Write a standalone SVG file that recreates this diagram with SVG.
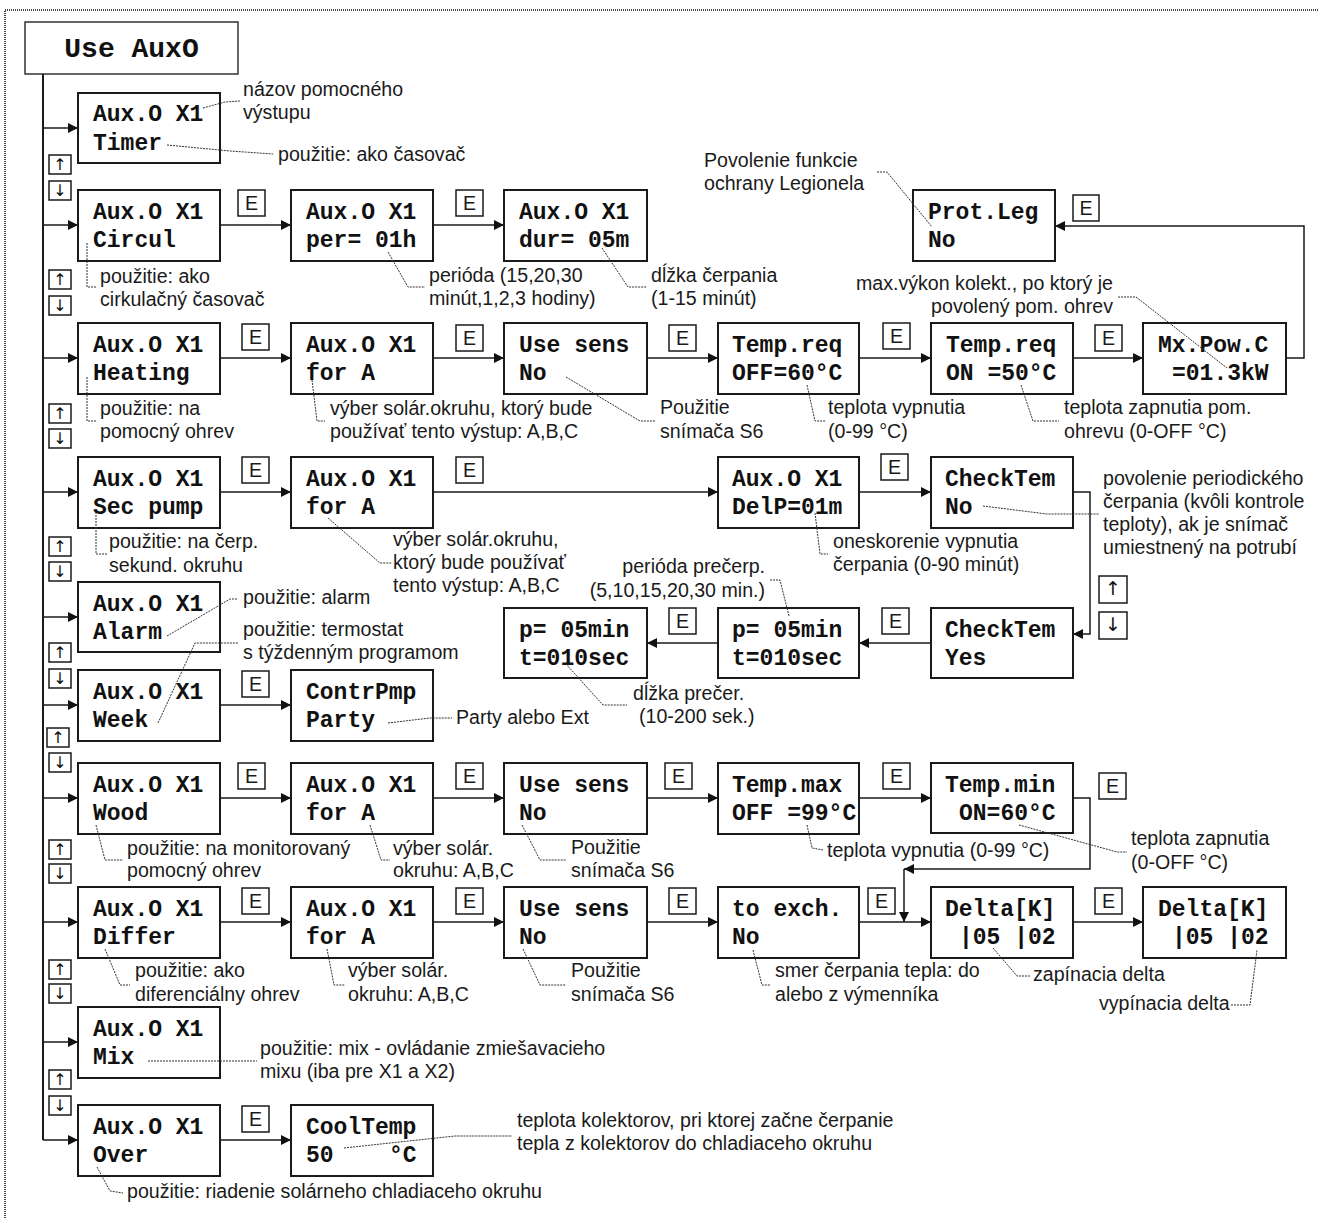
<svg xmlns="http://www.w3.org/2000/svg" width="1318" height="1218" viewBox="0 0 1318 1218">
<style>
.box{fill:#fff;stroke:#1a1a1a;stroke-width:2}
.tbox{fill:#fff;stroke:#333;stroke-width:1.5}
.m{font-family:"Liberation Mono","Courier New",monospace;font-weight:bold;font-size:23px;fill:#111}
.t{font-family:"Liberation Mono","Courier New",monospace;font-weight:bold;font-size:28px;fill:#111;text-anchor:middle}
.a{font-family:"Liberation Sans",Arial,sans-serif;font-size:19.6px;fill:#1a1a1a}
.end{text-anchor:end}
.ld{fill:none;stroke:#333;stroke-width:1;stroke-dasharray:2 1}
.c{fill:none;stroke:#1a1a1a;stroke-width:1.5}
.eb{fill:#fff;stroke:#1a1a1a;stroke-width:1.5}
.e{font-family:"Liberation Sans",Arial,sans-serif;font-size:19.6px;fill:#1a1a1a;text-anchor:middle}
.ud{font-family:"DejaVu Sans",sans-serif;font-size:16px;fill:#111;text-anchor:middle}
.brd{fill:none;stroke:#444;stroke-width:2;stroke-dasharray:1 1}
</style>
<defs>
<marker id="ah" markerUnits="userSpaceOnUse" markerWidth="11" markerHeight="11" refX="10" refY="5" orient="auto">
<path d="M0,0 L10,5 L0,10 z" fill="#111"/>
</marker>
</defs>
<rect width="1318" height="1218" fill="#fff"/>
<path class="brd" d="M5,1218 V10 H1318"/>

<g id="connectors">
<path class="c" style="stroke-width:2" d="M43,74 V1140"/>
<path class="c" marker-end="url(#ah)" d="M43,128 H78"/>
<path class="c" marker-end="url(#ah)" d="M43,225 H78"/>
<path class="c" marker-end="url(#ah)" d="M43,358 H78"/>
<path class="c" marker-end="url(#ah)" d="M43,492 H78"/>
<path class="c" marker-end="url(#ah)" d="M43,617 H78"/>
<path class="c" marker-end="url(#ah)" d="M43,705 H78"/>
<path class="c" marker-end="url(#ah)" d="M43,798 H78"/>
<path class="c" marker-end="url(#ah)" d="M43,922 H78"/>
<path class="c" marker-end="url(#ah)" d="M43,1042 H78"/>
<path class="c" marker-end="url(#ah)" d="M43,1140 H78"/>
<path class="c" marker-end="url(#ah)" d="M220,225 H291"/>
<path class="c" marker-end="url(#ah)" d="M433,225 H504"/>
<path class="c" marker-end="url(#ah)" d="M220,358 H291"/>
<path class="c" marker-end="url(#ah)" d="M433,358 H504"/>
<path class="c" marker-end="url(#ah)" d="M647,358 H718"/>
<path class="c" marker-end="url(#ah)" d="M859,358 H931"/>
<path class="c" marker-end="url(#ah)" d="M1073,358 H1143"/>
<path class="c" marker-end="url(#ah)" d="M1286,358 H1304 V226 H1055"/>
<path class="c" marker-end="url(#ah)" d="M220,492 H291"/>
<path class="c" marker-end="url(#ah)" d="M433,492 H718"/>
<path class="c" marker-end="url(#ah)" d="M859,492 H931"/>
<path class="c" marker-end="url(#ah)" d="M1073,492 H1090 V634 H1073"/>
<path class="c" marker-end="url(#ah)" d="M931,643 H859"/>
<path class="c" marker-end="url(#ah)" d="M718,643 H647"/>
<path class="c" marker-end="url(#ah)" d="M220,705 H291"/>
<path class="c" marker-end="url(#ah)" d="M220,798 H291"/>
<path class="c" marker-end="url(#ah)" d="M433,798 H504"/>
<path class="c" marker-end="url(#ah)" d="M647,798 H718"/>
<path class="c" marker-end="url(#ah)" d="M859,798 H931"/>
<path class="c" marker-end="url(#ah)" d="M1073,798 H1090 V869 H904"/>
<path class="c" marker-end="url(#ah)" d="M904,869 V922"/>
<path class="c" marker-end="url(#ah)" d="M220,922 H291"/>
<path class="c" marker-end="url(#ah)" d="M433,922 H504"/>
<path class="c" marker-end="url(#ah)" d="M647,922 H718"/>
<path class="c" marker-end="url(#ah)" d="M859,922 H931"/>
<path class="c" marker-end="url(#ah)" d="M1073,922 H1143"/>
<path class="c" marker-end="url(#ah)" d="M220,1140 H291"/>
</g>

<g id="keys">
<rect class="eb" x="238" y="190" width="27" height="26"/><text class="e" x="251.5" y="210">E</text>
<rect class="eb" x="456" y="190" width="27" height="26"/><text class="e" x="469.5" y="210">E</text>
<rect class="eb" x="242" y="324" width="27" height="26"/><text class="e" x="255.5" y="344">E</text>
<rect class="eb" x="456" y="325" width="27" height="26"/><text class="e" x="469.5" y="345">E</text>
<rect class="eb" x="669" y="325" width="27" height="26"/><text class="e" x="682.5" y="345">E</text>
<rect class="eb" x="883" y="323" width="27" height="26"/><text class="e" x="896.5" y="343">E</text>
<rect class="eb" x="1095" y="325" width="27" height="26"/><text class="e" x="1108.5" y="345">E</text>
<rect class="eb" x="1073" y="195" width="26" height="26"/><text class="e" x="1086" y="215">E</text>
<rect class="eb" x="242" y="457" width="27" height="26"/><text class="e" x="255.5" y="477">E</text>
<rect class="eb" x="456" y="457" width="27" height="26"/><text class="e" x="469.5" y="477">E</text>
<rect class="eb" x="881" y="454" width="27" height="26"/><text class="e" x="894.5" y="474">E</text>
<rect class="eb" x="882" y="608" width="27" height="26"/><text class="e" x="895.5" y="628">E</text>
<rect class="eb" x="669" y="608" width="27" height="26"/><text class="e" x="682.5" y="628">E</text>
<rect class="eb" x="242" y="671" width="27" height="26"/><text class="e" x="255.5" y="691">E</text>
<rect class="eb" x="238" y="763" width="27" height="26"/><text class="e" x="251.5" y="783">E</text>
<rect class="eb" x="456" y="763" width="27" height="26"/><text class="e" x="469.5" y="783">E</text>
<rect class="eb" x="665" y="763" width="27" height="26"/><text class="e" x="678.5" y="783">E</text>
<rect class="eb" x="883" y="763" width="27" height="26"/><text class="e" x="896.5" y="783">E</text>
<rect class="eb" x="1099" y="773" width="27" height="26"/><text class="e" x="1112.5" y="793">E</text>
<rect class="eb" x="242" y="888" width="27" height="26"/><text class="e" x="255.5" y="908">E</text>
<rect class="eb" x="456" y="888" width="27" height="26"/><text class="e" x="469.5" y="908">E</text>
<rect class="eb" x="669" y="888" width="27" height="26"/><text class="e" x="682.5" y="908">E</text>
<rect class="eb" x="868" y="888" width="27" height="26"/><text class="e" x="881.5" y="908">E</text>
<rect class="eb" x="1095" y="888" width="27" height="26"/><text class="e" x="1108.5" y="908">E</text>
<rect class="eb" x="242" y="1106" width="27" height="26"/><text class="e" x="255.5" y="1126">E</text>

<rect class="eb" x="49" y="155" width="22" height="19"/><text class="ud" x="60" y="170">↑</text>
<rect class="eb" x="49" y="181" width="22" height="19"/><text class="ud" x="60" y="196">↓</text>
<rect class="eb" x="49" y="270" width="22" height="19"/><text class="ud" x="60" y="285">↑</text>
<rect class="eb" x="49" y="296" width="22" height="19"/><text class="ud" x="60" y="311">↓</text>
<rect class="eb" x="49" y="404" width="22" height="19"/><text class="ud" x="60" y="419">↑</text>
<rect class="eb" x="49" y="429" width="22" height="19"/><text class="ud" x="60" y="444">↓</text>
<rect class="eb" x="49" y="537" width="22" height="19"/><text class="ud" x="60" y="552">↑</text>
<rect class="eb" x="49" y="562" width="22" height="19"/><text class="ud" x="60" y="577">↓</text>
<rect class="eb" x="49" y="643" width="22" height="19"/><text class="ud" x="60" y="658">↑</text>
<rect class="eb" x="49" y="669" width="22" height="19"/><text class="ud" x="60" y="684">↓</text>
<rect class="eb" x="47" y="728" width="22" height="19"/><text class="ud" x="58" y="743">↑</text>
<rect class="eb" x="49" y="753" width="22" height="19"/><text class="ud" x="60" y="768">↓</text>
<rect class="eb" x="49" y="840" width="22" height="19"/><text class="ud" x="60" y="855">↑</text>
<rect class="eb" x="49" y="864" width="22" height="19"/><text class="ud" x="60" y="879">↓</text>
<rect class="eb" x="49" y="960" width="22" height="19"/><text class="ud" x="60" y="975">↑</text>
<rect class="eb" x="49" y="984" width="22" height="19"/><text class="ud" x="60" y="999">↓</text>
<rect class="eb" x="49" y="1070" width="22" height="19"/><text class="ud" x="60" y="1085">↑</text>
<rect class="eb" x="49" y="1096" width="22" height="19"/><text class="ud" x="60" y="1111">↓</text>
<rect class="eb" x="1099" y="576" width="28" height="27"/><text class="ud" x="1113" y="595" style="font-size:19px">↑</text>
<rect class="eb" x="1099" y="612" width="28" height="27"/><text class="ud" x="1113" y="631" style="font-size:19px">↓</text>
</g>

<g id="n-title"><rect class="tbox" x="25" y="22" width="213" height="52"/><text class="t" x="131.5" y="57">Use AuxO</text></g>

<g id="n-timer"><rect class="box" x="78" y="93" width="142" height="70"/><text class="m" x="93" y="121">Aux.O X1</text><text class="m" x="93" y="150">Timer</text></g>
<g id="n-circul"><rect class="box" x="78" y="190" width="142" height="71"/><text class="m" x="93" y="219">Aux.O X1</text><text class="m" x="93" y="247">Circul</text></g>
<g id="n-heating"><rect class="box" x="78" y="323" width="142" height="71"/><text class="m" x="93" y="352">Aux.O X1</text><text class="m" x="93" y="380">Heating</text></g>
<g id="n-secpump"><rect class="box" x="78" y="457" width="142" height="71"/><text class="m" x="93" y="486">Aux.O X1</text><text class="m" x="93" y="514">Sec pump</text></g>
<g id="n-alarm"><rect class="box" x="78" y="582" width="142" height="70"/><text class="m" x="93" y="611">Aux.O X1</text><text class="m" x="93" y="639">Alarm</text></g>
<g id="n-week"><rect class="box" x="78" y="670" width="142" height="71"/><text class="m" x="93" y="699">Aux.O X1</text><text class="m" x="93" y="727">Week</text></g>
<g id="n-wood"><rect class="box" x="78" y="763" width="142" height="71"/><text class="m" x="93" y="792">Aux.O X1</text><text class="m" x="93" y="820">Wood</text></g>
<g id="n-differ"><rect class="box" x="78" y="887" width="142" height="71"/><text class="m" x="93" y="916">Aux.O X1</text><text class="m" x="93" y="944">Differ</text></g>
<g id="n-mix"><rect class="box" x="78" y="1007" width="142" height="71"/><text class="m" x="93" y="1036">Aux.O X1</text><text class="m" x="93" y="1064">Mix</text></g>
<g id="n-over"><rect class="box" x="78" y="1105" width="142" height="71"/><text class="m" x="93" y="1134">Aux.O X1</text><text class="m" x="93" y="1162">Over</text></g>

<g id="n-per"><rect class="box" x="291" y="190" width="142" height="71"/><text class="m" x="306" y="219">Aux.O X1</text><text class="m" x="306" y="247">per= 01h</text></g>
<g id="n-heat-fora"><rect class="box" x="291" y="323" width="142" height="71"/><text class="m" x="306" y="352">Aux.O X1</text><text class="m" x="306" y="380">for A</text></g>
<g id="n-sec-fora"><rect class="box" x="291" y="457" width="142" height="71"/><text class="m" x="306" y="486">Aux.O X1</text><text class="m" x="306" y="514">for A</text></g>
<g id="n-contrpmp"><rect class="box" x="291" y="670" width="142" height="71"/><text class="m" x="306" y="699">ContrPmp</text><text class="m" x="306" y="727">Party</text></g>
<g id="n-wood-fora"><rect class="box" x="291" y="763" width="142" height="71"/><text class="m" x="306" y="792">Aux.O X1</text><text class="m" x="306" y="820">for A</text></g>
<g id="n-diff-fora"><rect class="box" x="291" y="887" width="142" height="71"/><text class="m" x="306" y="916">Aux.O X1</text><text class="m" x="306" y="944">for A</text></g>
<g id="n-cooltemp"><rect class="box" x="291" y="1105" width="142" height="71"/><text class="m" x="306" y="1134">CoolTemp</text><text class="m" x="306" y="1162">50</text><text class="m" x="389" y="1162">°C</text></g>

<g id="n-dur"><rect class="box" x="504" y="190" width="143" height="71"/><text class="m" x="519" y="219">Aux.O X1</text><text class="m" x="519" y="247">dur= 05m</text></g>
<g id="n-heat-usesens"><rect class="box" x="504" y="323" width="143" height="71"/><text class="m" x="519" y="352">Use sens</text><text class="m" x="519" y="380">No</text></g>
<g id="n-p1"><rect class="box" x="504" y="608" width="143" height="70"/><text class="m" x="519" y="637">p= 05min</text><text class="m" x="519" y="665">t=010sec</text></g>
<g id="n-wood-usesens"><rect class="box" x="504" y="763" width="143" height="71"/><text class="m" x="519" y="792">Use sens</text><text class="m" x="519" y="820">No</text></g>
<g id="n-diff-usesens"><rect class="box" x="504" y="887" width="143" height="71"/><text class="m" x="519" y="916">Use sens</text><text class="m" x="519" y="944">No</text></g>

<g id="n-tempreq-off"><rect class="box" x="718" y="323" width="141" height="71"/><text class="m" x="732" y="352">Temp.req</text><text class="m" x="732" y="380">OFF=60°C</text></g>
<g id="n-delp"><rect class="box" x="718" y="457" width="141" height="71"/><text class="m" x="732" y="486">Aux.O X1</text><text class="m" x="732" y="514">DelP=01m</text></g>
<g id="n-p2"><rect class="box" x="718" y="608" width="141" height="70"/><text class="m" x="732" y="637">p= 05min</text><text class="m" x="732" y="665">t=010sec</text></g>
<g id="n-tempmax"><rect class="box" x="718" y="763" width="141" height="71"/><text class="m" x="732" y="792">Temp.max</text><text class="m" x="732" y="820">OFF =99°C</text></g>
<g id="n-toexch"><rect class="box" x="718" y="887" width="141" height="71"/><text class="m" x="732" y="916">to exch.</text><text class="m" x="732" y="944">No</text></g>

<g id="n-protleg"><rect class="box" x="913" y="190" width="142" height="71"/><text class="m" x="928" y="219">Prot.Leg</text><text class="m" x="928" y="247">No</text></g>
<g id="n-tempreq-on"><rect class="box" x="931" y="323" width="142" height="71"/><text class="m" x="946" y="352">Temp.req</text><text class="m" x="946" y="380">ON =50°C</text></g>
<g id="n-checktem-no"><rect class="box" x="931" y="457" width="142" height="71"/><text class="m" x="945" y="486">CheckTem</text><text class="m" x="945" y="514">No</text></g>
<g id="n-checktem-yes"><rect class="box" x="931" y="608" width="142" height="70"/><text class="m" x="945" y="637">CheckTem</text><text class="m" x="945" y="665">Yes</text></g>
<g id="n-tempmin"><rect class="box" x="931" y="763" width="142" height="70"/><text class="m" x="945" y="792">Temp.min</text><text class="m" x="959" y="820">ON=60°C</text></g>
<g id="n-delta1"><rect class="box" x="931" y="887" width="142" height="71"/><text class="m" x="945" y="916">Delta[K]</text><text class="m" x="959" y="944">|05 |02</text></g>

<g id="n-mxpow"><rect class="box" x="1143" y="323" width="143" height="71"/><text class="m" x="1158" y="352">Mx.Pow.C</text><text class="m" x="1172" y="380">=01.3kW</text></g>
<g id="n-delta2"><rect class="box" x="1143" y="887" width="143" height="71"/><text class="m" x="1158" y="916">Delta[K]</text><text class="m" x="1172" y="944">|05 |02</text></g>

<g id="leaders">
<polyline class="ld" points="203,108 225,102 240,101"/>
<polyline class="ld" points="167,145 230,151 273,154"/>
<polyline class="ld" points="87,243 87,287 96,287"/>
<polyline class="ld" points="388,252 408,287 425,287"/>
<polyline class="ld" points="602,248 628,287 647,287"/>
<polyline class="ld" points="877,172 887,172 932,227"/>
<polyline class="ld" points="1118,297 1136,297 1227,368"/>
<polyline class="ld" points="87,377 87,421 97,421"/>
<polyline class="ld" points="312,380 317,421 325,421"/>
<polyline class="ld" points="566,377 640,421 656,421"/>
<polyline class="ld" points="807,385 815,421 826,421"/>
<polyline class="ld" points="1021,385 1033,421 1059,421"/>
<polyline class="ld" points="96,512 96,554 107,554"/>
<polyline class="ld" points="328,518 380,563 392,563"/>
<polyline class="ld" points="815,513 820,554 828,554"/>
<polyline class="ld" points="983,506 1047,514 1099,514"/>
<polyline class="ld" points="770,580 780,580 789,616"/>
<polyline class="ld" points="566,664 603,705 627,705"/>
<polyline class="ld" points="167,636 230,599 238,599"/>
<polyline class="ld" points="158,723 195,643 238,643"/>
<polyline class="ld" points="388,723 430,718 452,718"/>
<polyline class="ld" points="96,825 105,860 123,860"/>
<polyline class="ld" points="370,825 381,860 390,860"/>
<polyline class="ld" points="522,825 540,860 566,860"/>
<polyline class="ld" points="807,825 812,848 823,850"/>
<polyline class="ld" points="1019,825 1117,852 1127,852"/>
<polyline class="ld" points="105,949 120,985 130,985"/>
<polyline class="ld" points="327,949 334,985 345,985"/>
<polyline class="ld" points="523,949 540,985 566,985"/>
<polyline class="ld" points="753,950 762,985 770,985"/>
<polyline class="ld" points="993,948 1017,976 1030,976"/>
<polyline class="ld" points="1231,1005 1250,1005 1257,950"/>
<polyline class="ld" points="148,1061 257,1061"/>
<polyline class="ld" points="344,1148 455,1136 512,1136"/>
<polyline class="ld" points="97,1167 110,1191 123,1193"/>
</g>

<g id="annotations">
<text class="a" x="243" y="96">názov pomocného</text><text class="a" x="243" y="119">výstupu</text>
<text class="a" x="278" y="161">použitie: ako časovač</text>
<text class="a" x="100" y="283">použitie: ako</text><text class="a" x="100" y="306">cirkulačný časovač</text>
<text class="a" x="429" y="282">perióda (15,20,30</text><text class="a" x="429" y="305">minút,1,2,3 hodiny)</text>
<text class="a" x="651" y="282">dĺžka čerpania</text><text class="a" x="651" y="305">(1-15 minút)</text>
<text class="a" x="704" y="167">Povolenie funkcie</text><text class="a" x="704" y="190">ochrany Legionela</text>
<text class="a end" x="1113" y="290">max.výkon kolekt., po ktorý je</text><text class="a end" x="1113" y="313">povolený pom. ohrev</text>
<text class="a" x="100" y="415">použitie: na</text><text class="a" x="100" y="438">pomocný ohrev</text>
<text class="a" x="330" y="415">výber solár.okruhu, ktorý bude</text><text class="a" x="330" y="438">používať tento výstup: A,B,C</text>
<text class="a" x="660" y="414">Použitie</text><text class="a" x="660" y="438">snímača S6</text>
<text class="a" x="828" y="414">teplota vypnutia</text><text class="a" x="828" y="438">(0-99 °C)</text>
<text class="a" x="1064" y="414">teplota zapnutia pom.</text><text class="a" x="1064" y="438">ohrevu (0-OFF °C)</text>
<text class="a" x="109" y="548">použitie: na čerp.</text><text class="a" x="109" y="572">sekund. okruhu</text>
<text class="a" x="393" y="546">výber solár.okruhu,</text><text class="a" x="393" y="569">ktorý bude používať</text><text class="a" x="393" y="592">tento výstup: A,B,C</text>
<text class="a" x="833" y="548">oneskorenie vypnutia</text><text class="a" x="833" y="571">čerpania (0-90 minút)</text>
<text class="a" x="1103" y="485">povolenie periodického</text><text class="a" x="1103" y="508">čerpania (kvôli kontrole</text><text class="a" x="1103" y="531">teploty), ak je snímač</text><text class="a" x="1103" y="554">umiestnený na potrubí</text>
<text class="a end" x="765" y="573">perióda prečerp.</text><text class="a end" x="765" y="597">(5,10,15,20,30 min.)</text>
<text class="a" x="633" y="700">dĺžka prečer.</text><text class="a" x="639" y="723">(10-200 sek.)</text>
<text class="a" x="243" y="604">použitie: alarm</text>
<text class="a" x="243" y="636">použitie: termostat</text><text class="a" x="243" y="659">s týždenným programom</text>
<text class="a" x="456" y="724">Party alebo Ext</text>
<text class="a" x="127" y="855">použitie: na monitorovaný</text><text class="a" x="127" y="877">pomocný ohrev</text>
<text class="a" x="393" y="855">výber solár.</text><text class="a" x="393" y="877">okruhu: A,B,C</text>
<text class="a" x="571" y="854">Použitie</text><text class="a" x="571" y="877">snímača S6</text>
<text class="a" x="827" y="857">teplota vypnutia (0-99 °C)</text>
<text class="a" x="1131" y="845">teplota zapnutia</text><text class="a" x="1131" y="869">(0-OFF °C)</text>
<text class="a" x="135" y="977">použitie: ako</text><text class="a" x="135" y="1001">diferenciálny ohrev</text>
<text class="a" x="348" y="977">výber solár.</text><text class="a" x="348" y="1001">okruhu: A,B,C</text>
<text class="a" x="571" y="977">Použitie</text><text class="a" x="571" y="1001">snímača S6</text>
<text class="a" x="775" y="977">smer čerpania tepla: do</text><text class="a" x="775" y="1001">alebo z výmenníka</text>
<text class="a" x="1033" y="981">zapínacia delta</text>
<text class="a" x="1099" y="1010">vypínacia delta</text>
<text class="a" x="260" y="1055">použitie: mix - ovládanie zmiešavacieho</text><text class="a" x="260" y="1078">mixu (iba pre X1 a X2)</text>
<text class="a" x="517" y="1127">teplota kolektorov, pri ktorej začne čerpanie</text><text class="a" x="517" y="1150">tepla z kolektorov do chladiaceho okruhu</text>
<text class="a" x="127" y="1198">použitie: riadenie solárneho chladiaceho okruhu</text>
</g>
</svg>
